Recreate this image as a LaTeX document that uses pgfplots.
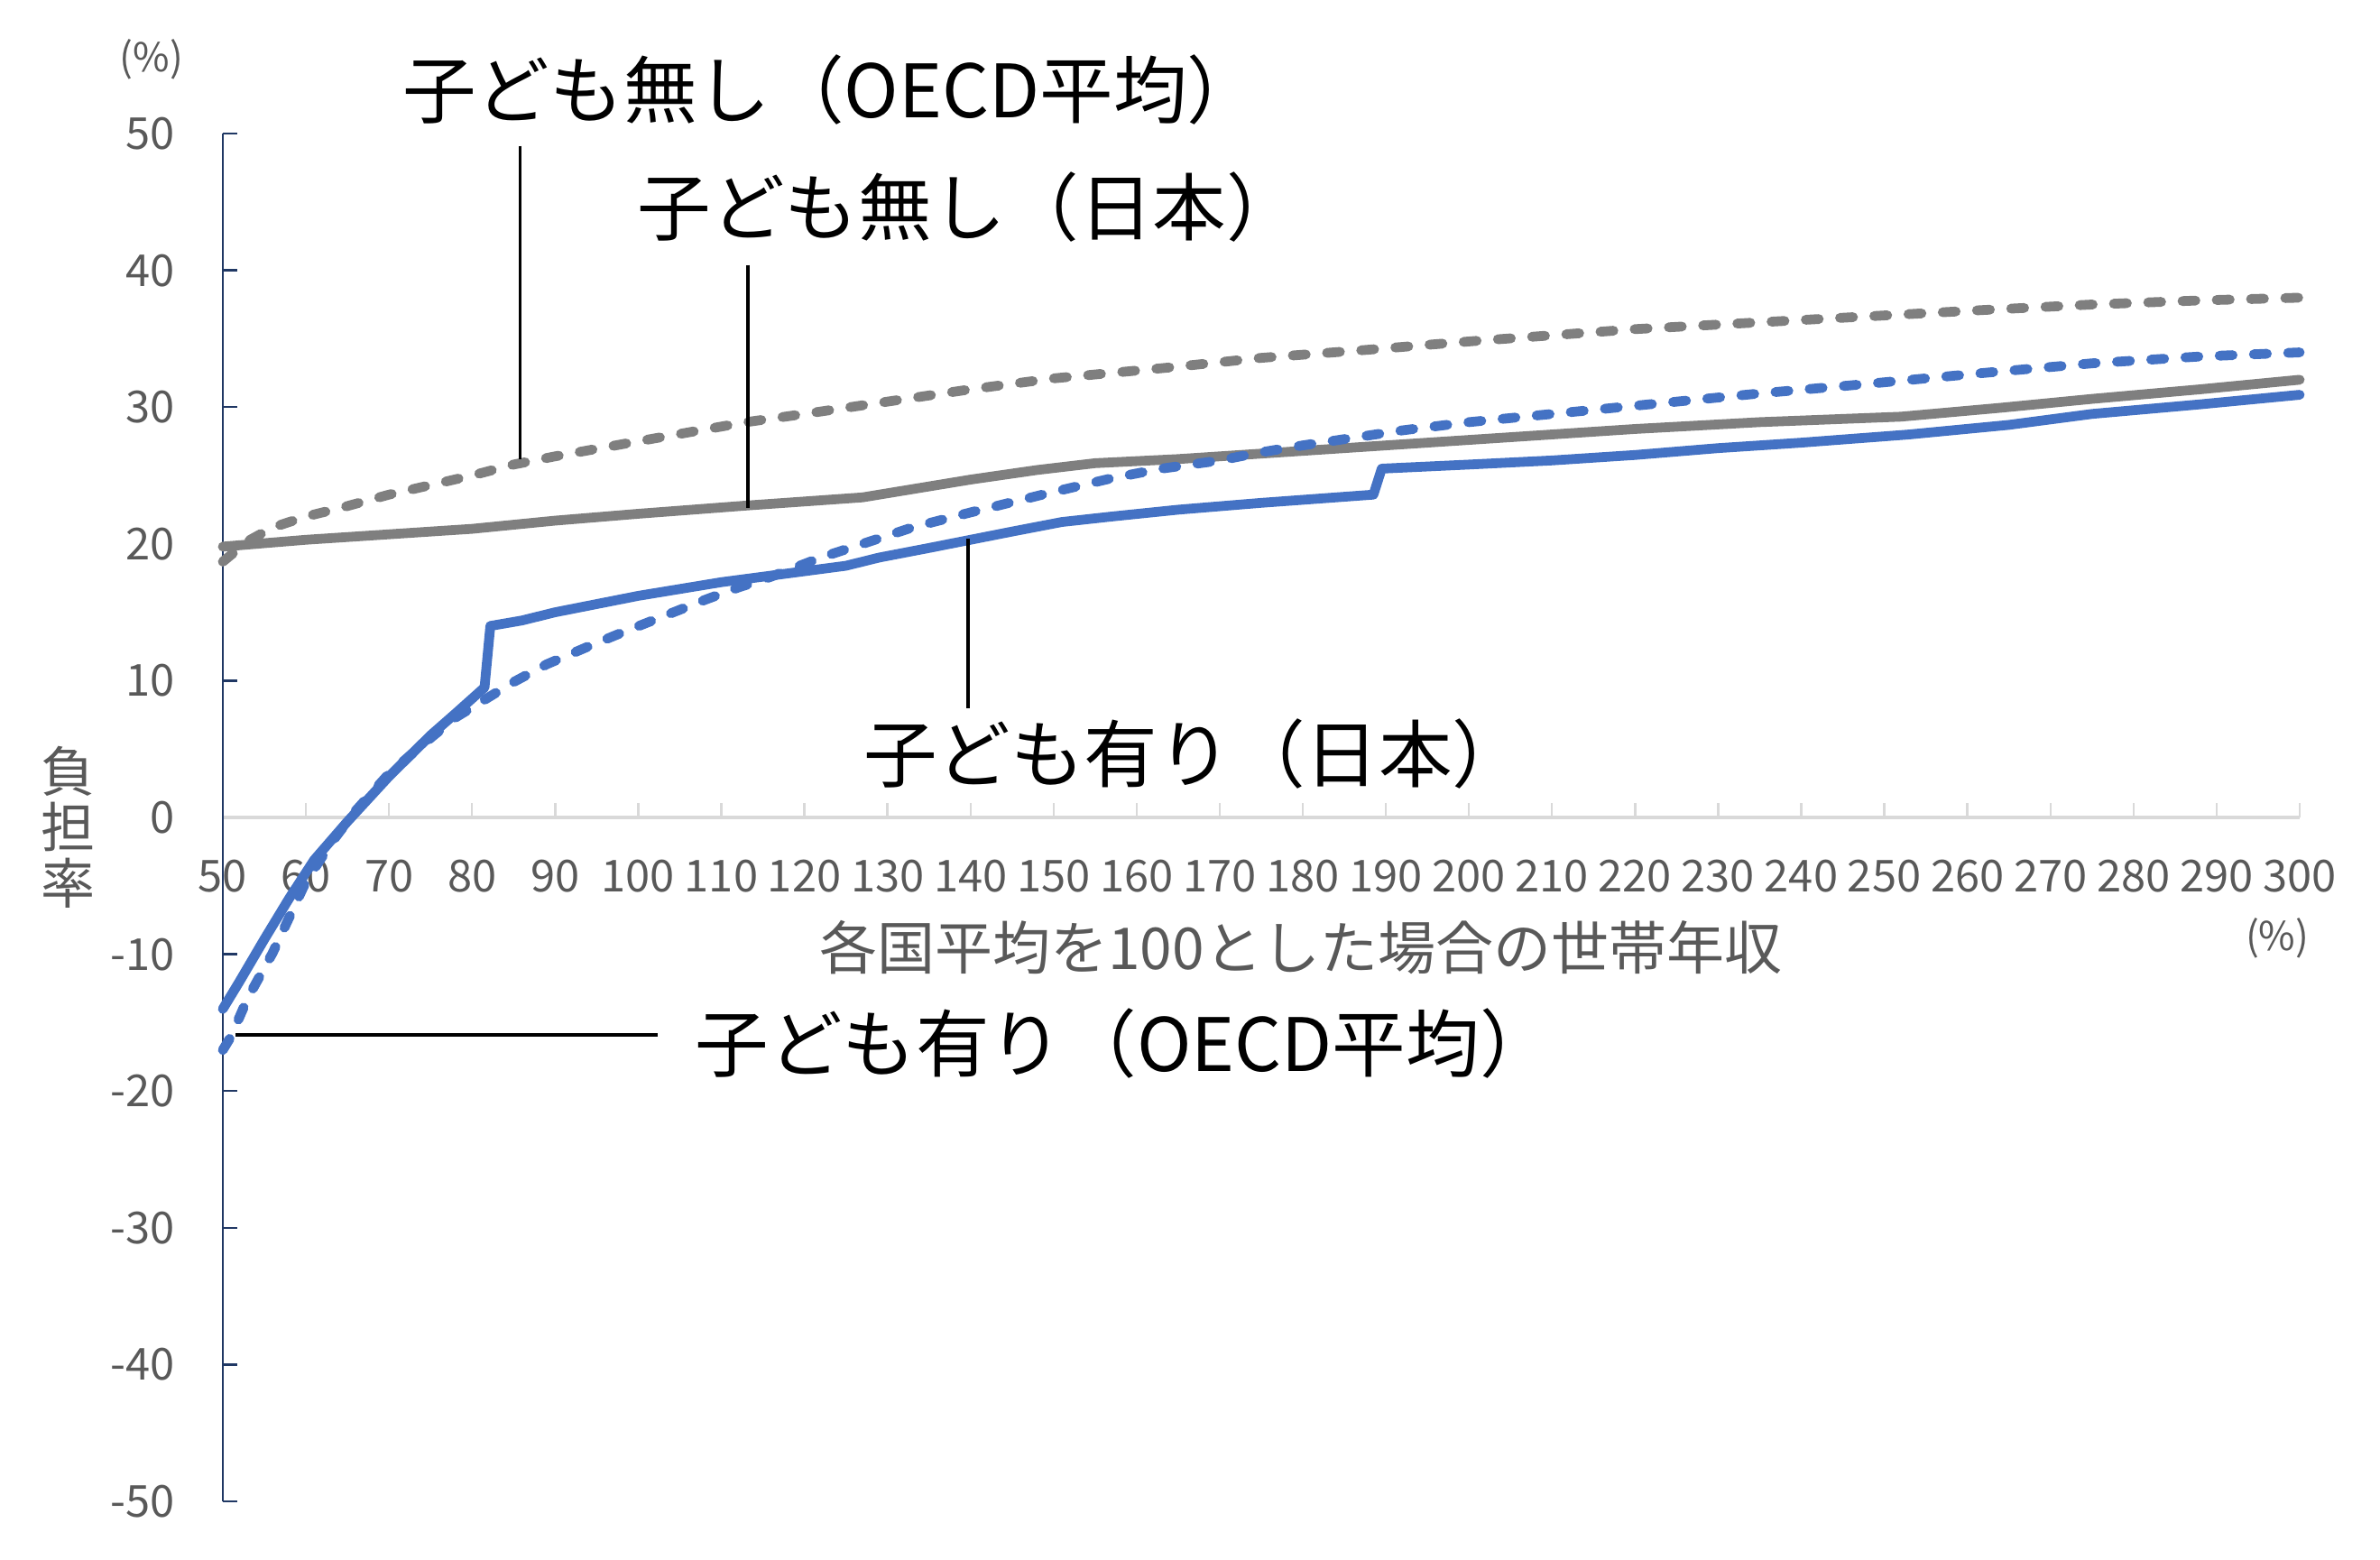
\documentclass[border=0pt]{standalone}
\usepackage{fontspec}
\setmainfont{Noto Sans CJK JP}
\usepackage{pgfplots}
\pgfplotsset{compat=1.18}
\definecolor{cgray}{RGB}{127,127,127}
\definecolor{cblue}{RGB}{68,114,196}
\definecolor{tgray}{RGB}{89,89,89}
\definecolor{navy}{RGB}{32,56,100}
\definecolor{lgray}{RGB}{217,217,217}
\tikzset{
  serie/.style={line width=2.7pt, line join=round, line cap=round},
  dsh/.style={dash pattern=on 3.6pt off 5.9pt},
  annot/.style={font=\fontsize{20.4}{21}\selectfont, inner sep=0pt},
}
\begin{document}
\begin{tikzpicture}
\begin{axis}[
  at={(0,0)}, anchor=south west,
  scale only axis, width=575.5pt, height=379pt,
  xmin=50, xmax=300, ymin=-50, ymax=50,
  axis x line=middle, axis y line=left,
  x axis line style={draw=lgray, line width=0.8pt, -},
  y axis line style={draw=navy, line width=0.6pt, -},
  xtick={50,60,...,300},
  ytick={-50,-40,-30,-20,-10,0,10,20,30,40,50},
  yticklabels={-50,-40,-30,-20,-10,0,10,20,30,40,50},
  hide obscured x ticks=false, hide obscured y ticks=false,
  major tick length=4pt,
  x tick style={draw=lgray, line width=0.6pt},
  y tick style={draw=navy, line width=0.6pt},
  xtick align=inside, ytick align=inside,
  /pgf/number format/assume math mode=true,
  tick label style={font=\fontsize{12.2}{12.5}\selectfont, text=tgray},
  xticklabel style={yshift=-8.2pt},
  yticklabel style={xshift=-9.8pt},
  clip=false,
]
% 子ども無し（OECD平均）
\addplot[serie, dsh, cgray] coordinates {
(50,18.7) (53,20.2) (56,21.2) (60,22.0) (64,22.6) (70,23.6) (75,24.3) (80,25.0) (85,25.8) (90,26.4) (100,27.5) (113,28.9) (120,29.5) (130,30.4) (140,31.3) (150,32.1) (164,32.9) (175,33.6) (188,34.2) (200,34.8) (220,35.7) (235,36.2) (250,36.7) (262,37.1) (275,37.5) (288,37.8) (300,38.0)
};
% 子ども無し（日本）
\addplot[serie, cgray] coordinates {
(50,19.8) (60,20.3) (70,20.7) (80,21.1) (85,21.4) (90,21.7) (100,22.2) (113,22.8) (120,23.1) (127,23.4) (133,24.0) (140,24.7) (148,25.4) (155,25.9) (165,26.2) (175,26.6) (190,27.2) (200,27.6) (220,28.4) (235,28.9) (252,29.3) (264,29.95) (275,30.6) (288,31.3) (300,32.0)
};
% 子ども有り（OECD平均）
\addplot[serie, dsh, cblue] coordinates {
(50,-17.0) (51,-16.0) (53,-13.2) (56,-9.9) (60,-4.7) (63,-1.9) (66,0.5) (70,3.2) (74,5.3) (78,7.3) (81.5,8.6) (85,9.9) (89,11.2) (94,12.5) (98,13.5) (103,14.7) (108,15.9) (112,16.8) (116,17.6) (122,19.0) (128,20.2) (133,21.2) (140,22.3) (144,22.9) (150,23.8) (157,24.8) (163,25.5) (170,26.1) (175,26.7) (180,27.2) (192,28.3) (200,28.9) (210,29.5) (220,30.1) (235,31.0) (248,31.7) (262,32.5) (275,33.2) (288,33.7) (300,34.0)
};
% 子ども有り（日本）
\addplot[serie, cblue] coordinates {
(50,-14.0) (52,-12.0) (55,-8.9) (58,-5.9) (61,-3.1) (65,-0.3) (70,3.0) (75,6.0) (78,7.6) (81.5,9.5) (82.2,14.0) (86,14.4) (90,15.0) (95,15.6) (100,16.2) (105,16.7) (110,17.2) (115,17.6) (120,18.0) (125,18.4) (129,19.0) (135,19.7) (140,20.3) (145,20.9) (151,21.6) (157,22.0) (165,22.5) (175,23.0) (188.5,23.6) (189.5,25.5) (200,25.8) (210,26.1) (220,26.5) (230,27.0) (240,27.4) (253,28.0) (265,28.7) (275,29.5) (288,30.2) (300,30.9)
};
% leader lines
\draw[black, line width=0.8pt] (axis cs:85.8,49.1) -- (axis cs:85.8,26.2);
\draw[black, line width=0.8pt] (axis cs:113.2,40.4) -- (axis cs:113.2,22.6);
\draw[black, line width=0.8pt] (axis cs:139.7,20.4) -- (axis cs:139.7,8.0);
\draw[black, line width=0.8pt] (axis cs:51.5,-15.9) -- (axis cs:102.3,-15.9);
% annotations
\node[annot] at (axis cs:123.3,53.2) {子ども無し（OECD平均）};
\node[annot] at (axis cs:139.8,44.6) {子ども無し（日本）};
\node[annot] at (axis cs:167.0,4.66) {子ども有り（日本）};
\node[annot] at (axis cs:158.5,-16.5) {子ども有り（OECD平均）};
% axis labels
\node[text=tgray, font=\fontsize{16}{16}\selectfont, inner sep=0pt] at (axis cs:179.75,-9.5) {各国平均を100とした場合の世帯年収};
\node[text=tgray, font=\fontsize{15}{15.5}\selectfont, inner sep=0pt, align=center] at (axis cs:31.4,-0.7) {負\\担\\率};
\node[text=tgray, font=\fontsize{11}{12}\selectfont, inner sep=0pt] at (axis cs:41.4,55.4) {(\%)};
\node[text=tgray, font=\fontsize{11}{12}\selectfont, inner sep=0pt] at (axis cs:297.3,-8.8) {(\%)};
\end{axis}
\pgfresetboundingbox
\path (-61.75pt,-16pt) rectangle (597.75pt,416pt);
\end{tikzpicture}
\end{document}
